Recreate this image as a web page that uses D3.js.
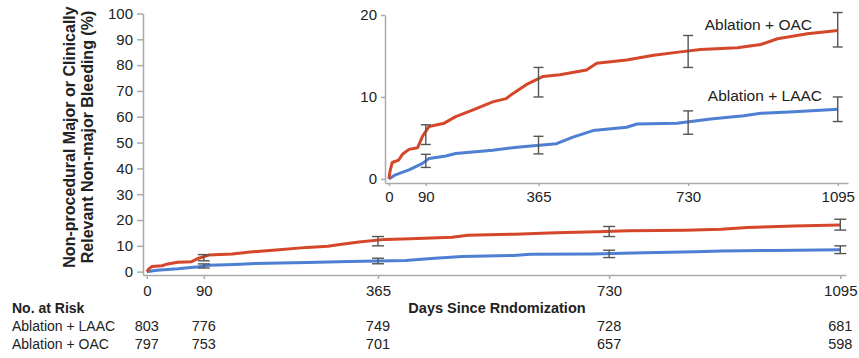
<!DOCTYPE html>
<html>
<head>
<meta charset="utf-8">
<script src="https://cdn.jsdelivr.net/npm/d3@7"></script>
<style>
    body { margin: 0; background: #fff; }
    svg { display: block; font-family: "Liberation Sans", Arial, sans-serif; }
    .axis path, .axis line { stroke: #aaa; stroke-width: 1.5; }
    .axis text { fill: #222; }
</style>
</head>
<body>
<svg id="chart" width="859" height="358"></svg>
<script>
// cumulative incidence (days, %)
const oacDays = [0, 3, 8, 24, 33, 49, 70, 82, 98, 135, 163, 204, 253, 286, 302, 335, 376, 417, 482, 507, 580, 646, 711, 760, 850, 907, 948, 1021, 1095];
const oacVals = [0, 1.0, 2.0, 2.3, 3.0, 3.6, 3.8, 5.2, 6.4, 6.8, 7.6, 8.4, 9.4, 9.8, 10.4, 11.5, 12.5, 12.7, 13.3, 14.1, 14.5, 15.1, 15.5, 15.8, 16.0, 16.4, 17.1, 17.7, 18.1];
const laacDays = [0, 16, 49, 82, 98, 139, 163, 253, 319, 409, 449, 498, 580, 605, 703, 785, 866, 907, 989, 1095];
const laacVals = [0, 0.5, 1.1, 1.9, 2.5, 2.8, 3.1, 3.5, 3.9, 4.3, 5.1, 5.9, 6.3, 6.7, 6.8, 7.3, 7.7, 8.0, 8.2, 8.5];

// confidence intervals at the landmark days
const errDays = [90, 365, 730, 1095];
const oacLo = [4.2, 10.0, 13.6, 16.1];
const oacHi = [6.6, 13.6, 17.5, 20.3];
const laacLo = [1.4, 3.05, 5.45, 7.0];
const laacHi = [3.0, 5.2, 8.3, 10.0];

const tickDays = [0, 90, 365, 730, 1095];
const mainYTicks = [0, 10, 20, 30, 40, 50, 60, 70, 80, 90, 100];
const insetYTicks = [0, 10, 20];

const riskRows = ['Ablation + LAAC', 'Ablation + OAC'];
const laacRisk = [803, 776, 749, 728, 681];
const oacRisk = [797, 753, 701, 657, 598];

const OAC_COLOR = '#d5472a';
const LAAC_COLOR = '#4d7fd2';
const ERR_COLOR = '#555';

const svg = d3.select('#chart');

const toPoints = (days, vals) => days.map((d, i) => [d, vals[i]]);
const oacPts = toPoints(oacDays, oacVals);
const laacPts = toPoints(laacDays, laacVals);

function drawPanel(g, x, y, capW, lineW) {
    const line = d3.line().x(d => x(d[0])).y(d => y(d[1]));
    g.append('path').datum(laacPts)
        .attr('d', line).attr('fill', 'none')
        .attr('stroke', LAAC_COLOR).attr('stroke-width', lineW)
        .attr('stroke-linejoin', 'round');
    g.append('path').datum(oacPts)
        .attr('d', line).attr('fill', 'none')
        .attr('stroke', OAC_COLOR).attr('stroke-width', lineW)
        .attr('stroke-linejoin', 'round');

    const bars = [];
    errDays.forEach((d, i) => {
        bars.push({day: d, lo: oacLo[i], hi: oacHi[i]});
        bars.push({day: d, lo: laacLo[i], hi: laacHi[i]});
    });
    const eb = g.selectAll('.eb').data(bars).enter().append('g')
        .attr('stroke', ERR_COLOR).attr('stroke-width', 1.4);
    eb.append('line')
        .attr('x1', b => x(b.day)).attr('x2', b => x(b.day))
        .attr('y1', b => y(b.lo)).attr('y2', b => y(b.hi));
    eb.append('line')
        .attr('x1', b => x(b.day) - capW / 2).attr('x2', b => x(b.day) + capW / 2)
        .attr('y1', b => y(b.lo)).attr('y2', b => y(b.lo));
    eb.append('line')
        .attr('x1', b => x(b.day) - capW / 2).attr('x2', b => x(b.day) + capW / 2)
        .attr('y1', b => y(b.hi)).attr('y2', b => y(b.hi));
}

const fmt = d3.format('d');

// ---- main panel
const x = d3.scaleLinear().domain([-6, 1104]).range([143, 846]);
const y = d3.scaleLinear().domain([-1.3, 100]).range([275, 13.5]);

svg.append('g').attr('class', 'axis')
    .attr('transform', 'translate(0,275)')
    .call(d3.axisBottom(x).tickValues(tickDays).tickFormat(fmt).tickSize(4).tickSizeOuter(0).tickPadding(6))
    .selectAll('text').attr('font-size', 15);

svg.append('g').attr('class', 'axis')
    .attr('transform', 'translate(143,0)')
    .call(d3.axisLeft(y).tickValues(mainYTicks).tickSize(6).tickSizeOuter(0).tickPadding(4))
    .selectAll('text').attr('font-size', 15);

drawPanel(svg.append('g'), x, y, 12, 3);

// ---- inset panel
const xi = d3.scaleLinear().domain([-9.5, 1120]).range([385, 848]);
const yi = d3.scaleLinear().domain([-0.5, 20]).range([183, 15]);

svg.append('g').attr('class', 'axis')
    .attr('transform', 'translate(0,183)')
    .call(d3.axisBottom(xi).tickValues(tickDays).tickFormat(fmt).tickSize(3).tickSizeOuter(0).tickPadding(5))
    .selectAll('text').attr('font-size', 15);

svg.append('g').attr('class', 'axis')
    .attr('transform', 'translate(385,0)')
    .call(d3.axisLeft(yi).tickValues(insetYTicks).tickSize(4).tickSizeOuter(0).tickPadding(4))
    .selectAll('text').attr('font-size', 15);

drawPanel(svg.append('g'), xi, yi, 10, 3);

svg.append('text').attr('x', 812).attr('y', 30)
    .attr('text-anchor', 'end').attr('font-size', 15.5).attr('fill', '#222')
    .text('Ablation + OAC');
svg.append('text').attr('x', 822).attr('y', 101)
    .attr('text-anchor', 'end').attr('font-size', 15.5).attr('fill', '#222')
    .text('Ablation + LAAC');

// ---- titles
const yTitle = svg.append('text')
    .attr('transform', 'translate(0,137) rotate(-90)')
    .attr('text-anchor', 'middle').attr('font-size', 16)
    .attr('font-weight', 'bold').attr('fill', '#222');
yTitle.append('tspan').attr('x', 0).attr('y', 75).text('Non-procedural Major or Clinically');
yTitle.append('tspan').attr('x', 0).attr('y', 93).text('Relevant Non-major Bleeding (%)');

svg.append('text').attr('x', 497).attr('y', 313)
    .attr('text-anchor', 'middle').attr('font-size', 14.5)
    .attr('font-weight', 'bold').attr('fill', '#222')
    .text('Days Since Rndomization');

// ---- numbers at risk
svg.append('text').attr('x', 12).attr('y', 313)
    .attr('font-size', 14).attr('font-weight', 'bold').attr('fill', '#222')
    .text('No. at Risk');

const riskY = [331, 349];
[laacRisk, oacRisk].forEach((counts, r) => {
    svg.append('text').attr('x', 12).attr('y', riskY[r])
        .attr('font-size', 14).attr('fill', '#222')
        .text(riskRows[r]);
    svg.selectAll(null).data(counts).enter().append('text')
        .attr('x', (c, i) => x(tickDays[i]))
        .attr('y', riskY[r])
        .attr('text-anchor', 'middle').attr('font-size', 14.5).attr('fill', '#222')
        .text(c => c);
});
</script>
</body>
</html>
